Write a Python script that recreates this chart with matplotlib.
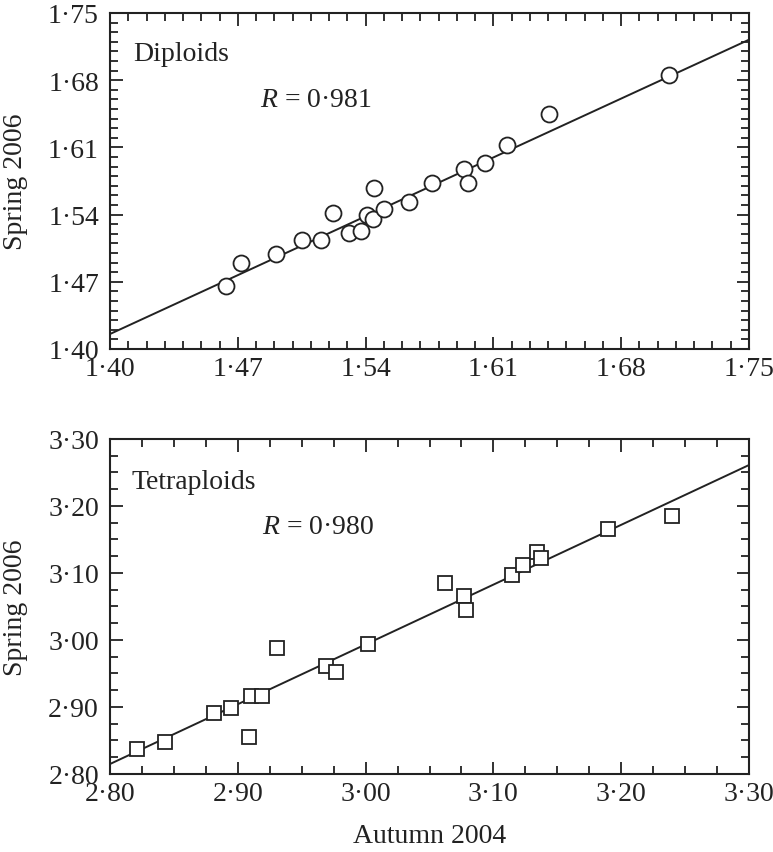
import numpy as np
import matplotlib
matplotlib.use("Agg")
import matplotlib.pyplot as plt
from matplotlib.ticker import MultipleLocator, FuncFormatter

# ---- data: diploids ----
dip_autumn = [1.4636, 1.4718, 1.4910, 1.5052, 1.5156, 1.5222, 1.5310, 1.5375,
              1.5408, 1.5441, 1.5447, 1.5501, 1.5638, 1.5764, 1.5940, 1.5962,
              1.6055, 1.6175, 1.6405, 1.7063]
dip_spring = [1.4656, 1.4896, 1.4990, 1.5135, 1.5135, 1.5417, 1.5208, 1.5229,
              1.5396, 1.5354, 1.5677, 1.5458, 1.5531, 1.5729, 1.5875, 1.5729,
              1.5938, 1.6125, 1.6448, 1.6854]
dip_line_intercept = 1.4156   # value at x = 1.40
dip_line_slope = 0.876
dip_R = "0·981"

# ---- data: tetraploids ----
tet_autumn = [2.8211, 2.8430, 2.8811, 2.8947, 2.9101, 2.9187, 2.9085, 2.9307,
              2.9688, 2.9766, 3.0016, 3.0619, 3.0772, 3.0786, 3.1146, 3.1229,
              3.1341, 3.1375, 3.1899, 3.2395]
tet_spring = [2.8373, 2.8473, 2.8906, 2.8990, 2.9160, 2.9160, 2.8548, 2.9885,
              2.9616, 2.9518, 2.9945, 3.0846, 3.0657, 3.0452, 3.0975, 3.1124,
              3.1309, 3.1219, 3.1657, 3.1851]
tet_line_intercept = 2.8149   # value at x = 2.80
tet_line_slope = 0.8925
tet_R = "0·980"

plt.rcParams['font.family'] = ['Liberation Serif', 'DejaVu Serif']
plt.rcParams['mathtext.fontset'] = 'custom'
plt.rcParams['mathtext.it'] = 'Liberation Serif:italic'
plt.rcParams['mathtext.rm'] = 'Liberation Serif'
FS = 20

fig = plt.figure(figsize=(7.73, 8.53), dpi=100)
ax1 = fig.add_axes([110/773, 1-350/853, 639/773, 336/853])
ax2 = fig.add_axes([110/773, 1-775/853, 639/773, 335/853])

fmt = FuncFormatter(lambda v, p: f"{v:.2f}".replace('.', '·'))

def style(ax, lo, hi, major, minor):
    ax.set_xlim(lo, hi)
    ax.set_ylim(lo, hi)
    ax.xaxis.set_major_locator(MultipleLocator(major))
    ax.yaxis.set_major_locator(MultipleLocator(major))
    ax.xaxis.set_minor_locator(MultipleLocator(minor))
    ax.yaxis.set_minor_locator(MultipleLocator(minor))
    ax.xaxis.set_major_formatter(fmt)
    ax.yaxis.set_major_formatter(fmt)
    ax.tick_params(which='both', direction='in', top=True, right=True,
                   width=1.3, colors='#222222')
    ax.tick_params(which='major', length=9, labelsize=FS, labelcolor='#222222')
    ax.tick_params(which='minor', length=5.5)
    ax.tick_params(axis='x', which='major', pad=5)
    ax.tick_params(axis='y', which='major', pad=8)
    for s in ax.spines.values():
        s.set_linewidth(1.5)
        s.set_color('#222222')

style(ax1, 1.40, 1.75, 0.07, 0.01)
style(ax2, 2.80, 3.30, 0.10, 0.025)

# regression lines
xl = np.array([1.40, 1.75])
ax1.plot(xl, dip_line_intercept + dip_line_slope * (xl - 1.40), color='#222222', lw=1.4, zorder=2)
xl2 = np.array([2.80, 3.30])
ax2.plot(xl2, tet_line_intercept + tet_line_slope * (xl2 - 2.80), color='#222222', lw=1.4, zorder=2)

ax1.plot(dip_autumn, dip_spring, 'o', ms=11.5, mfc='white', mec='#222222', mew=1.3,
         zorder=3, clip_on=False)
ax2.plot(tet_autumn, tet_spring, 's', ms=10, mfc='white', mec='#222222', mew=1.3,
         zorder=3, clip_on=False)

ax1.text(0.036, 0.878, "Diploids", transform=ax1.transAxes, fontsize=FS,
         ha='left', va='center', color='#222222')
ax1.text(0.235, 0.744, r"$R$ = " + dip_R, transform=ax1.transAxes, fontsize=FS,
         ha='left', va='center', color='#222222')
ax2.text(0.033, 0.872, "Tetraploids", transform=ax2.transAxes, fontsize=FS,
         ha='left', va='center', color='#222222')
ax2.text(0.238, 0.740, r"$R$ = " + tet_R, transform=ax2.transAxes, fontsize=FS,
         ha='left', va='center', color='#222222')

ax1.set_ylabel("Spring 2006", fontsize=FS, color='#222222')
ax2.set_ylabel("Spring 2006", fontsize=FS, color='#222222')
ax1.yaxis.set_label_coords(-0.128, 0.5)
ax2.yaxis.set_label_coords(-0.128, 0.5)
ax2.set_xlabel("Autumn 2004", fontsize=FS, color='#222222')
ax2.xaxis.set_label_coords(0.5, -0.145)

fig.savefig("out.png", dpi=100)
